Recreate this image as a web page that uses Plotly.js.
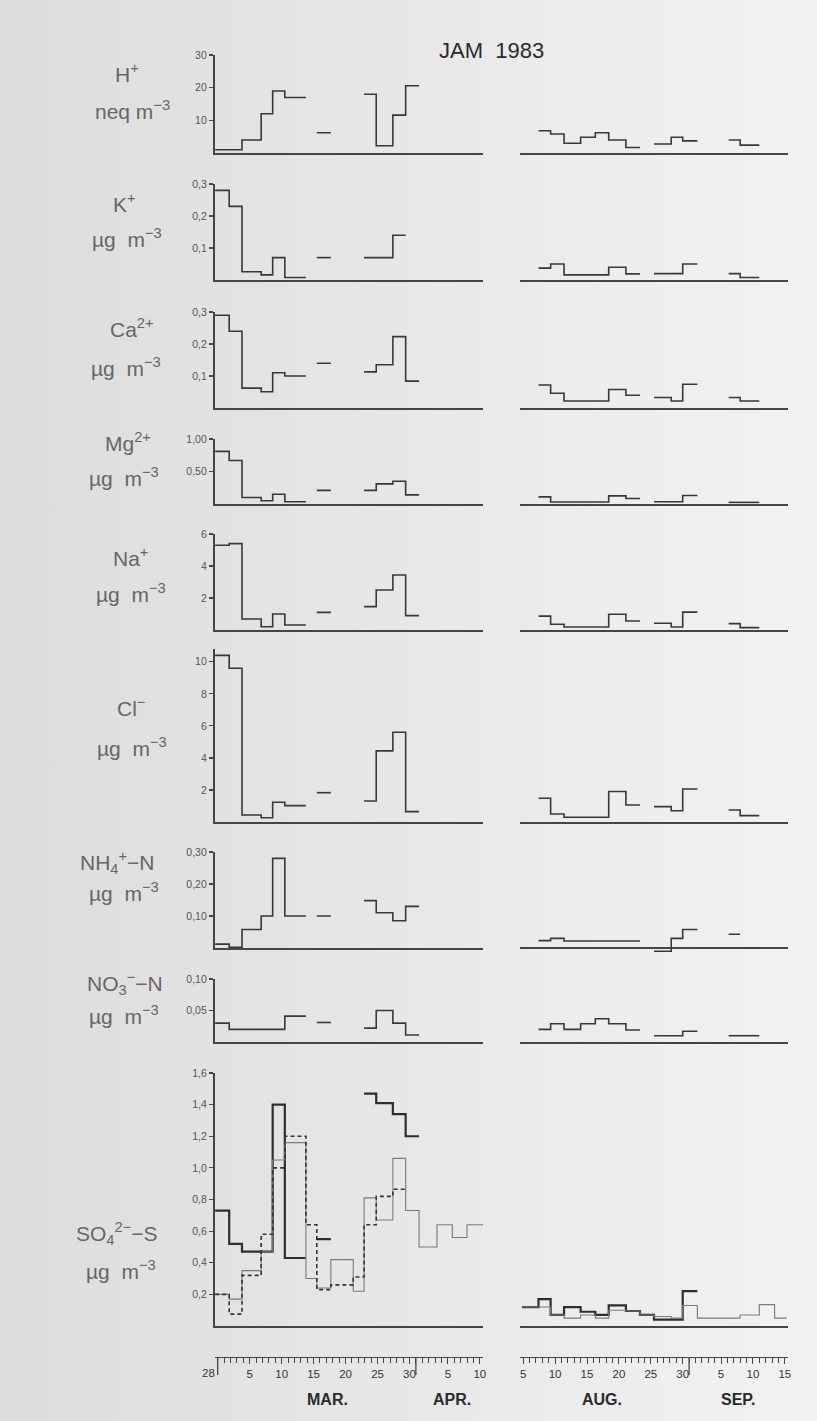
<!DOCTYPE html>
<html><head><meta charset="utf-8">
<script src="https://cdn.plot.ly/plotly-3.0.1.min.js"></script>
<style>
html,body{margin:0;padding:0;}
body{width:817px;height:1421px;background:linear-gradient(90deg,#dcdcdc 0%,#e4e4e4 35%,#ececec 70%,#f2f2f2 100%);}
#chart{width:817px;height:1421px;}
</style></head><body><div id="chart"></div>
<script>
const N = null;
// sampling period edges (days; Mar: 0 = 28 Feb, Aug: 0 = 5 Aug)
const marEdges = [-0.4, 1.8, 3.8, 6.8, 8.6, 10.5, 13.8, 15.5, 17.7, 21.2, 22.9, 24.8, 27.4, 29.4, 31.5, 34.3, 36.7, 39.0, 41.5];
const augEdges = [-0.2, 2.4, 4.3, 6.4, 9.0, 11.3, 13.4, 16.1, 18.3, 20.5, 23.2, 25.0, 27.3, 29.8, 32.2, 34.0, 37.0, 39.4, 41.3];

const hMar   = [1, 1, 4, 12, 19, 17, N, 6.2, N, N, 18, 2.2, 11.6, 20.6, N, N, N, N];
const hAug   = [N, 6.8, 5.8, 3.0, 4.8, 6.2, 4.0, 1.7, N, 2.75, 4.8, 3.7, N, N, 4.0, 2.4, N, N];
const kMar   = [0.28, 0.23, 0.026, 0.016, 0.07, 0.008, N, 0.07, N, N, 0.07, 0.07, 0.14, N, N, N, N, N];
const kAug   = [N, 0.037, 0.05, 0.016, 0.016, 0.016, 0.04, 0.019, N, 0.02, 0.02, 0.05, N, N, 0.02, 0.008, N, N];
const caMar  = [0.29, 0.24, 0.062, 0.051, 0.11, 0.10, N, 0.14, N, N, 0.113, 0.135, 0.223, 0.084, N, N, N, N];
const caAug  = [N, 0.072, 0.046, 0.022, 0.022, 0.022, 0.058, 0.04, N, 0.033, 0.022, 0.074, N, N, 0.033, 0.022, N, N];
const mgMar  = [0.81, 0.67, 0.10, 0.05, 0.15, 0.035, N, 0.21, N, N, 0.21, 0.31, 0.35, 0.14, N, N, N, N];
const mgAug  = [N, 0.11, 0.03, 0.03, 0.03, 0.03, 0.125, 0.085, N, 0.035, 0.035, 0.13, N, N, 0.025, 0.025, N, N];
const naMar  = [5.3, 5.4, 0.69, 0.2, 1.0, 0.31, N, 1.1, N, N, 1.46, 2.5, 3.44, 0.9, N, N, N, N];
const naAug  = [N, 0.87, 0.36, 0.19, 0.19, 0.19, 0.98, 0.56, N, 0.42, 0.19, 1.12, N, N, 0.4, 0.15, N, N];
const clMar  = [10.4, 9.6, 0.44, 0.27, 1.23, 1.02, N, 1.83, N, N, 1.31, 4.44, 5.6, 0.65, N, N, N, N];
const clAug  = [N, 1.48, 0.5, 0.3, 0.3, 0.3, 1.9, 1.06, N, 0.96, 0.7, 2.06, N, N, 0.75, 0.4, N, N];
const nh4Mar = [0.012, 0.002, 0.058, 0.10, 0.28, 0.10, N, 0.10, N, N, 0.148, 0.11, 0.085, 0.13, N, N, N, N];
const nh4Aug = [N, 0.023, 0.03, 0.022, 0.022, 0.022, 0.022, 0.022, N, -0.01, 0.03, 0.058, N, N, 0.043, N, N, N];
const no3Mar = [0.03, 0.02, 0.02, 0.02, 0.02, 0.041, N, 0.031, N, N, 0.022, 0.05, 0.03, 0.011, N, N, N, N];
const no3Aug = [N, 0.02, 0.029, 0.02, 0.029, 0.037, 0.029, 0.019, N, 0.01, 0.01, 0.017, N, N, 0.01, 0.01, N, N];
const so4aMar = [0.73, 0.52, 0.47, 0.47, 1.40, 0.43, N, 0.55, N, N, 1.47, 1.41, 1.34, 1.20, N, N, N, N];
const so4bMar = [0.2, 0.17, 0.35, 0.47, 1.05, 1.16, 0.30, 0.24, 0.42, 0.22, 0.81, 0.67, 1.06, 0.73, 0.50, 0.64, 0.56, 0.64];
const so4cMar = [0.2, 0.075, 0.32, 0.58, 1.0, 1.2, 0.64, 0.23, 0.26, 0.31, 0.64, 0.82, 0.865, N, N, N, N, N];
const so4aAug = [0.12, 0.17, 0.07, 0.12, 0.09, 0.07, 0.13, 0.095, 0.07, 0.04, 0.04, 0.22, N, N, N, N, N, N];
const so4bAug = [0.12, 0.12, 0.07, 0.05, 0.07, 0.05, 0.10, 0.095, 0.07, 0.06, 0.05, 0.13, 0.05, 0.05, 0.05, 0.07, 0.135, 0.05];

// date axis ticks
const marTickVals = [5, 10, 15, 20, 25, 30, 36, 41];
const marTickText = ['5', '10', '15', '20', '25', '30', '5', '10'];
const augTickVals = [0, 5, 10, 15, 20, 25, 31, 36, 41];
const augTickText = ['5', '10', '15', '20', '25', '30', '5', '10', '15'];
const marMonthEnds = [0, 31];
const augMonthEnds = [26];

// panel labels and y ticks
const ionNames = ['H<sup>+</sup>', 'K<sup>+</sup>', 'Ca<sup>2+</sup>', 'Mg<sup>2+</sup>', 'Na<sup>+</sup>', 'Cl<sup>−</sup>',
  'NH<sub>4</sub><sup>+</sup>−N', 'NO<sub>3</sub><sup>−</sup>−N', 'SO<sub>4</sub><sup>2−</sup>−S'];
const ionUnits = ['neq m<sup>−3</sup>', 'µg  m<sup>−3</sup>', 'µg  m<sup>−3</sup>', 'µg  m<sup>−3</sup>', 'µg  m<sup>−3</sup>',
  'µg  m<sup>−3</sup>', 'µg  m<sup>−3</sup>', 'µg  m<sup>−3</sup>', 'µg  m<sup>−3</sup>'];
const yTickVals = [[10, 20, 30], [0.1, 0.2, 0.3], [0.1, 0.2, 0.3], [0.5, 1.0], [2, 4, 6], [2, 4, 6, 8, 10],
  [0.1, 0.2, 0.3], [0.05, 0.1], [0.2, 0.4, 0.6, 0.8, 1.0, 1.2, 1.4, 1.6]];
const yTickText = [['10', '20', '30'], ['0,1', '0,2', '0,3'], ['0,1', '0,2', '0,3'], ['0,50', '1,00'], ['2', '4', '6'],
  ['2', '4', '6', '8', '10'], ['0,10', '0,20', '0,30'], ['0,05', '0,10'], ['0,2', '0,4', '0,6', '0,8', '1,0', '1,2', '1,4', '1,6']];
const yMax = [30, 0.3, 0.3, 1.0, 6, 10.8, 0.3, 0.1, 1.6];

// ---- layout geometry (pixels) ----
const W = 817, H = 1421;
const panelTop = [55, 184, 312, 439, 534, 649, 852, 979, 1073];
const panelBot = [153, 280, 408, 504, 630, 822, 948, 1042, 1326];
const nameY = [73, 203, 328, 442, 557, 707, 862, 983, 1233];
const unitY = [110, 238, 367, 477, 593, 747, 892, 1015, 1270];
const nameX = [127, 124, 132, 128, 130, 131, 118, 125, 117];
const unitX = [132, 127, 126, 124, 131, 132, 124, 124, 121];
const LDOM = [214.5 / W, 483 / W], RDOM = [520 / W, 788 / W];
const XR = [-0.5, 41.5];
const py = p => 1 - p / H;

const lineCol = '#383838', axCol = '#454545';

function stepXY(edges, vals) {
  const x = [], y = [];
  let prev = false;
  for (let i = 0; i < vals.length; i++) {
    const v = vals[i];
    if (v === null) { if (prev) { x.push(null); y.push(null); } prev = false; continue; }
    x.push(edges[i]); y.push(v);
    x.push(edges[i + 1]); y.push(v);
    prev = true;
  }
  return {x, y};
}

const series = [
  [[hMar], [hAug]], [[kMar], [kAug]], [[caMar], [caAug]], [[mgMar], [mgAug]], [[naMar], [naAug]],
  [[clMar], [clAug]], [[nh4Mar], [nh4Aug]], [[no3Mar], [no3Aug]],
  [[so4aMar, so4bMar, so4cMar], [so4aAug, so4bAug]]
];
const so4Styles = [
  {color: '#2e2e2e', width: 2.2},
  {color: '#7a7a7a', width: 1.1},
  {color: '#333333', width: 1.6, dash: '4px,3px'}
];

const traces = [];
const layout = {
  width: W, height: H, margin: {l: 0, r: 0, t: 0, b: 0},
  paper_bgcolor: 'rgba(0,0,0,0)', plot_bgcolor: 'rgba(0,0,0,0)',
  showlegend: false, font: {family: 'Liberation Sans, Arial, sans-serif', color: '#444'},
  annotations: [], shapes: []
};

for (let r = 0; r < 9; r++) {
  const iL = 2 * r + 1, iR = 2 * r + 2;
  const dom = [py(panelBot[r]), py(panelTop[r])];
  const isNH4 = r === 6;
  layout['xaxis' + iL] = {domain: LDOM, range: XR, anchor: 'y' + iL, showline: true, linecolor: axCol, linewidth: 1.6,
    ticks: '', showticklabels: false, showgrid: false, zeroline: false, fixedrange: true};
  layout['yaxis' + iL] = {domain: dom, range: [0, yMax[r]], anchor: 'x' + iL, showline: true, linecolor: axCol, linewidth: 1.6,
    ticks: 'outside', ticklen: 4, tickwidth: 1.2, tickcolor: axCol, tickvals: yTickVals[r], ticktext: yTickText[r],
    tickfont: {size: 10.5, color: '#555'}, showgrid: false, zeroline: false, fixedrange: true};
  const rMin = isNH4 ? -0.02 : 0;
  const rDom = isNH4 ? [py(panelBot[r] + 0.02 * 320), py(panelTop[r])] : dom;
  layout['xaxis' + iR] = {domain: RDOM, range: XR, anchor: 'y' + iR, showline: !isNH4, linecolor: axCol, linewidth: 1.6,
    ticks: '', showticklabels: false, showgrid: false, zeroline: false, fixedrange: true};
  layout['yaxis' + iR] = {domain: rDom, range: [rMin, yMax[r]], anchor: 'x' + iR, showline: false, ticks: '',
    showticklabels: false, showgrid: false, zeroline: isNH4, zerolinecolor: axCol, zerolinewidth: 1.6, fixedrange: true};

  series[r][0].forEach((vals, k) => {
    const s = stepXY(marEdges, vals);
    const st = r === 8 ? so4Styles[k] : {color: lineCol, width: 1.6};
    traces.push({type: 'scatter', mode: 'lines', x: s.x, y: s.y, xaxis: 'x' + iL, yaxis: 'y' + iL,
      line: st, hoverinfo: 'skip', connectgaps: false});
  });
  series[r][1].forEach((vals, k) => {
    const s = stepXY(augEdges, vals);
    const st = r === 8 ? so4Styles[k] : {color: lineCol, width: 1.6};
    traces.push({type: 'scatter', mode: 'lines', x: s.x, y: s.y, xaxis: 'x' + iR, yaxis: 'y' + iR,
      line: st, hoverinfo: 'skip', connectgaps: false});
  });

  layout.annotations.push({xref: 'paper', yref: 'paper', x: nameX[r] / W, y: py(nameY[r]), text: ionNames[r],
    showarrow: false, xanchor: 'center', yanchor: 'middle', font: {size: 21, color: '#666'}});
  layout.annotations.push({xref: 'paper', yref: 'paper', x: unitX[r] / W, y: py(unitY[r]), text: ionUnits[r],
    showarrow: false, xanchor: 'center', yanchor: 'middle', font: {size: 21, color: '#666'}});
}

// date axes
const axY = 1357;
const dateAx = (tv, tt) => ({range: XR, showline: true, linecolor: axCol, linewidth: 1.4,
  ticks: 'outside', ticklen: 6, tickwidth: 1, tickcolor: axCol, tickvals: tv, ticktext: tt,
  tickfont: {size: 11.5, color: '#333'}, showgrid: false, zeroline: false, fixedrange: true,
  minor: {tickmode: 'linear', tick0: 0, dtick: 1, ticks: 'outside', ticklen: 5, tickcolor: axCol, tickwidth: 1, showgrid: false}});
layout.xaxis19 = Object.assign(dateAx(marTickVals, marTickText), {domain: LDOM, anchor: 'y19'});
layout.xaxis20 = Object.assign(dateAx(augTickVals, augTickText), {domain: RDOM, anchor: 'y20'});
layout.yaxis19 = {domain: [py(axY), py(axY - 2)], range: [0, 1], visible: false, anchor: 'x19', fixedrange: true};
layout.yaxis20 = {domain: [py(axY), py(axY - 2)], range: [0, 1], visible: false, anchor: 'x20', fixedrange: true};
traces.push({type: 'scatter', mode: 'lines', x: [], y: [], xaxis: 'x19', yaxis: 'y19', hoverinfo: 'skip'});
traces.push({type: 'scatter', mode: 'lines', x: [], y: [], xaxis: 'x20', yaxis: 'y20', hoverinfo: 'skip'});

marMonthEnds.forEach(v => layout.shapes.push({type: 'line', xref: 'x19', yref: 'paper', x0: v, x1: v,
  y0: py(axY), y1: py(axY + 18), line: {color: axCol, width: 1.3}}));
augMonthEnds.forEach(v => layout.shapes.push({type: 'line', xref: 'x20', yref: 'paper', x0: v, x1: v,
  y0: py(axY), y1: py(axY + 18), line: {color: axCol, width: 1.3}}));
layout.annotations.push({xref: 'x19', yref: 'paper', x: 0, y: py(axY + 8), text: '28', showarrow: false,
  xanchor: 'right', yanchor: 'top', xshift: -1, font: {size: 11.5, color: '#333'}});

const months = [['MAR.', 327], ['APR.', 452], ['AUG.', 602], ['SEP.', 738]];
months.forEach(m => layout.annotations.push({xref: 'paper', yref: 'paper', x: m[1] / W, y: py(1399), text: '<b>' + m[0] + '</b>',
  showarrow: false, xanchor: 'center', yanchor: 'middle', font: {size: 16, color: '#2a2a2a'}}));

layout.annotations.push({xref: 'paper', yref: 'paper', x: 492 / W, y: py(50), text: 'JAM\u00a0\u00a01983', showarrow: false,
  xanchor: 'center', yanchor: 'middle', font: {size: 22, color: '#2a2a2a'}});

Plotly.newPlot('chart', traces, layout, {staticPlot: true, displayModeBar: false});
</script></body></html>
